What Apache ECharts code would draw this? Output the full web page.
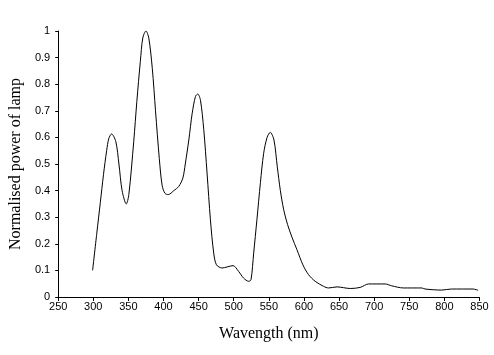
<!DOCTYPE html>
<html>
<head>
<meta charset="utf-8">
<script src="https://cdn.jsdelivr.net/npm/echarts@6/dist/echarts.min.js"></script>
<style>html,body{margin:0;padding:0;background:#fff}#c{width:494px;height:355px}</style>
</head>
<body>
<div id="c"></div>
<script>
var wavelength = [299,305,310,314.5,319,322,326,332,336.5,341,347,350.6,357.6,362,367,370.5,375,379,384,388.6,394,398,402,406.7,414.7,421.8,427.5,431,436,440.8,445.5,448.8,452.6,457.3,462,466.8,471.5,475.4,483.5,490.6,499,507,514,521.3,524.6,528.4,533,538,542.6,547.5,552,557.3,562,566.4,571,576.7,582.9,590,598.5,606.5,616,628,635,647,666,680,692,715.7,725,741.6,767.8,772.5,796,810,841,848];
var power = [0.10,0.24,0.355,0.46,0.55,0.595,0.613,0.585,0.50,0.40,0.35,0.385,0.585,0.735,0.886,0.974,1.0,0.974,0.86,0.70,0.52,0.42,0.39,0.385,0.40,0.416,0.447,0.50,0.59,0.69,0.754,0.763,0.74,0.63,0.466,0.29,0.165,0.121,0.109,0.113,0.118,0.096,0.071,0.059,0.065,0.165,0.29,0.43,0.54,0.60,0.619,0.59,0.49,0.40,0.33,0.272,0.225,0.178,0.121,0.084,0.059,0.04,0.034,0.038,0.032,0.036,0.049,0.049,0.042,0.034,0.034,0.03,0.026,0.03,0.03,0.025];
var xTitle = 'Wavength (nm)';
var yTitle = 'Normalised power of lamp';

var pts = wavelength.map(function (w, i) { return [w, power[i]]; });
var chart = echarts.init(document.getElementById('c'), null, {renderer: 'canvas'});
chart.setOption({
  animation: false,
  backgroundColor: '#fff',
  grid: {left: 57.5, right: 14.5, top: 31, bottom: 58, containLabel: false},
  xAxis: {
    type: 'value', min: 250, max: 850, interval: 50,
    name: xTitle, nameLocation: 'middle', nameGap: 29,
    nameTextStyle: {fontFamily: 'Liberation Serif', fontSize: 16, color: '#000'},
    axisLine: {show: true, onZero: false, lineStyle: {color: '#000', width: 1}},
    axisTick: {show: true, length: 4, lineStyle: {color: '#000'}},
    axisLabel: {fontFamily: 'Liberation Sans', fontSize: 11, color: '#000', margin: 4},
    splitLine: {show: false}
  },
  yAxis: {
    type: 'value', min: 0, max: 1, interval: 0.1,
    name: yTitle, nameLocation: 'middle', nameGap: 31, nameRotate: 90,
    nameTextStyle: {fontFamily: 'Liberation Serif', fontSize: 16, color: '#000'},
    axisLine: {show: true, lineStyle: {color: '#000', width: 1}},
    axisTick: {show: true, length: 3, lineStyle: {color: '#000'}},
    axisLabel: {fontFamily: 'Liberation Sans', fontSize: 11, color: '#000', margin: 8,
      formatter: function (v) { return String(Math.round(v * 10) / 10); }},
    splitLine: {show: false}
  },
  series: [{
    type: 'line', data: pts, smooth: 0.3, showSymbol: false, symbol: 'none',
    lineStyle: {color: '#000', width: 1}
  }]
});
</script>
</body>
</html>
